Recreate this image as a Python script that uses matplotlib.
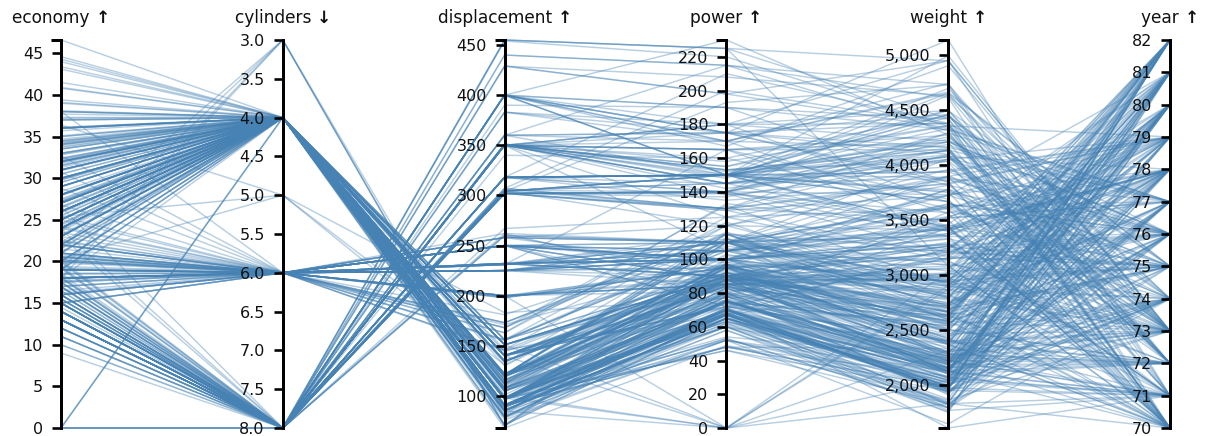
import matplotlib
matplotlib.use("Agg")
import matplotlib.pyplot as plt
from matplotlib.collections import LineCollection
from matplotlib.ticker import MultipleLocator, FixedLocator, FuncFormatter
import numpy as np

# Cars data set: one entry per car, grouped by model year (one line per year).
economy = [
    18, 15, 18, 16, 17, 15, 14, 14, 14, 15, 15, 14, 15, 14, 24, 22, 18, 21, 27, 26, 25, 24, 25, 26, 21, 10, 10, 11, 9, 0, 0, 0, 0, 0, 0,
    27, 28, 25, 25, 19, 16, 17, 19, 18, 14, 14, 14, 14, 12, 13, 13, 18, 22, 19, 18, 23, 28, 30, 30, 31, 35, 27, 26, 0,
    24, 25, 23, 20, 21, 13, 14, 15, 14, 17, 11, 13, 12, 13, 19, 15, 13, 13, 14, 18, 22, 21, 26, 22, 28, 23, 28, 27,
    13, 14, 13, 14, 15, 12, 13, 13, 14, 13, 12, 13, 18, 16, 18, 18, 23, 26, 11, 12, 13, 12, 18, 20, 21, 22, 18, 19, 21, 26, 15, 16, 29, 24, 20, 19, 15, 24, 20, 11,
    20, 21, 19, 15, 31, 26, 32, 25, 16, 16, 18, 16, 13, 14, 14, 14, 29, 26, 26, 31, 32, 28, 24, 26, 24, 26, 31,
    19, 18, 15, 15, 16, 15, 16, 14, 17, 16, 15, 18, 21, 20, 13, 29, 23, 20, 23, 24, 25, 24, 18, 29, 19, 23, 23, 22, 25, 33,
    28, 25, 25, 26, 27, 17.5, 16, 15.5, 14.5, 22, 22, 24, 22.5, 29, 24.5, 29, 33, 20, 18, 18.5, 17.5, 29.5, 32, 28, 26.5, 20, 13, 19, 19, 16.5, 16.5, 13, 13, 13,
    31.5, 30, 36, 25.5, 33.5, 17.5, 17, 15.5, 15, 17.5, 20.5, 19, 18.5, 16, 15.5, 15.5, 16, 29, 24.5, 26, 25.5, 30.5, 33.5, 30, 30.5, 22, 21.5, 21.5,
    43.1, 36.1, 32.8, 39.4, 36.1, 19.9, 19.4, 20.2, 19.2, 20.5, 20.2, 25.1, 20.5, 19.4, 20.6, 20.8, 18.6, 18.1, 19.2, 17.7, 18.1, 17.5, 30, 27.5, 27.2, 30.9, 21.1, 23.2, 23.8, 23.9, 20.3, 17, 21.6, 16.2, 31.5, 29.5,
    21.5, 19.8, 22.3, 20.2, 20.6, 17, 17.6, 16.5, 18.2, 16.9, 15.5, 19.2, 18.5, 31.9, 34.1, 35.7, 27.4, 25.4, 23, 27.2, 23.9, 34.2, 34.5, 31.8, 37.3, 28.4, 28.8, 26.8, 33.5,
    41.5, 38.1, 32.1, 37.2, 28, 26.4, 24.3, 19.1, 34.3, 29.8, 31.3, 37, 32.2, 46.6, 27.9, 40.8, 44.3, 43.4, 36.4, 30, 44.6, 40.9, 33.8, 29.8, 32.7, 23.7, 35, 23.6, 32.4,
    27.2, 26.6, 25.8, 23.5, 30, 39.1, 39, 35.1, 32.3, 37, 37.7, 34.1, 34.7, 34.4, 29.9, 33, 34.5, 33.7, 32.4, 32.9, 31.6, 28.1, 30.7, 25.4, 24.2, 22.4, 26.6, 20.2, 17.6, 0,
    28, 27, 34, 31, 29, 27, 24, 23, 36, 37, 31, 38, 36, 36, 36, 34, 38, 32, 38, 25, 38, 26, 22, 32, 36, 27, 27, 44, 32, 28, 31,
]

cylinders = [
    8, 8, 8, 8, 8, 8, 8, 8, 8, 8, 8, 8, 8, 8, 4, 6, 6, 6, 4, 4, 4, 4, 4, 4, 6, 8, 8, 8, 8, 4, 8, 8, 8, 8, 8,
    4, 4, 4, 4, 6, 6, 6, 6, 6, 8, 8, 8, 8, 8, 8, 8, 6, 4, 6, 6, 4, 4, 4, 4, 4, 4, 4, 4, 4,
    4, 4, 4, 4, 4, 8, 8, 8, 8, 8, 8, 8, 8, 8, 3, 8, 8, 8, 8, 4, 4, 4, 4, 4, 4, 4, 4, 4,
    8, 8, 8, 8, 8, 8, 8, 8, 8, 8, 8, 8, 6, 6, 6, 6, 6, 4, 8, 8, 8, 8, 6, 4, 4, 4, 3, 4, 6, 4, 8, 8, 4, 4, 4, 4, 8, 4, 6, 8,
    6, 6, 6, 6, 4, 4, 4, 4, 6, 6, 6, 8, 8, 8, 8, 8, 4, 4, 4, 4, 4, 4, 4, 4, 4, 4, 4,
    6, 6, 6, 6, 8, 8, 8, 8, 6, 6, 6, 6, 6, 8, 8, 4, 4, 6, 4, 4, 4, 4, 6, 4, 6, 4, 4, 4, 4, 4,
    4, 4, 4, 4, 4, 8, 8, 8, 8, 6, 6, 6, 6, 4, 4, 4, 4, 6, 6, 6, 6, 4, 4, 4, 4, 4, 8, 4, 6, 6, 8, 8, 8, 8,
    4, 4, 4, 4, 4, 8, 8, 8, 8, 6, 6, 6, 6, 8, 8, 8, 8, 4, 4, 4, 4, 4, 4, 4, 4, 6, 4, 3,
    4, 4, 4, 4, 4, 8, 8, 8, 6, 6, 6, 4, 6, 6, 6, 6, 6, 6, 8, 6, 8, 8, 4, 4, 4, 4, 4, 4, 4, 4, 5, 6, 4, 6, 4, 4,
    6, 6, 4, 6, 6, 8, 8, 8, 8, 8, 8, 8, 8, 4, 4, 4, 4, 5, 8, 4, 8, 4, 4, 4, 4, 4, 6, 6, 4,
    4, 4, 4, 4, 4, 4, 4, 6, 4, 4, 4, 4, 4, 4, 4, 4, 4, 4, 5, 4, 4, 4, 4, 4, 6, 3, 4, 4, 4,
    4, 4, 4, 6, 4, 4, 4, 4, 4, 4, 4, 4, 4, 4, 4, 4, 4, 4, 4, 4, 4, 4, 6, 6, 6, 6, 8, 6, 6, 4,
    4, 4, 4, 4, 4, 4, 4, 4, 4, 4, 4, 4, 4, 4, 4, 4, 4, 4, 4, 6, 6, 4, 6, 4, 4, 4, 4, 4, 4, 4, 4,
]

displacement = [
    307, 350, 318, 304, 302, 429, 454, 440, 455, 390, 383, 340, 400, 455, 113, 198, 199, 200, 97, 97, 110, 107, 104, 121, 199, 360, 307, 318, 304, 133, 350, 351, 383, 360, 302,
    97, 140, 113, 98, 232, 225, 250, 250, 232, 350, 400, 351, 318, 383, 400, 400, 258, 140, 250, 250, 122, 116, 79, 88, 71, 72, 97, 91, 97,
    113, 97.5, 97, 140, 122, 350, 400, 318, 351, 304, 429, 350, 350, 400, 70, 304, 307, 302, 318, 121, 121, 120, 96, 122, 97, 120, 98, 97,
    350, 304, 350, 302, 318, 429, 400, 351, 318, 440, 455, 360, 225, 250, 232, 250, 198, 97, 400, 400, 360, 350, 232, 97, 140, 108, 70, 122, 155, 98, 350, 400, 68, 116, 114, 121, 318, 121, 156, 350,
    198, 200, 232, 250, 79, 122, 71, 140, 250, 258, 225, 302, 350, 318, 302, 304, 98, 79, 97, 76, 83, 90, 90, 116, 120, 108, 79,
    225, 250, 250, 250, 400, 350, 318, 351, 231, 250, 258, 225, 231, 262, 302, 97, 140, 232, 140, 134, 90, 119, 171, 90, 232, 115, 120, 121, 121, 91,
    107, 116, 140, 98, 101, 305, 318, 304, 351, 225, 250, 200, 232, 85, 98, 90, 91, 225, 250, 250, 258, 97, 85, 97, 140, 130, 318, 120, 156, 168, 350, 350, 302, 318,
    98, 111, 79, 122, 85, 305, 260, 318, 302, 250, 231, 225, 250, 400, 350, 400, 351, 97, 151, 97, 140, 98, 98, 97, 97, 146, 121, 80,
    90, 98, 78, 85, 91, 260, 318, 302, 231, 200, 200, 140, 225, 232, 231, 200, 225, 258, 305, 231, 302, 318, 98, 134, 119, 105, 134, 156, 151, 119, 131, 163, 121, 163, 89, 98,
    231, 200, 140, 232, 225, 305, 302, 351, 318, 350, 351, 267, 360, 89, 86, 98, 121, 183, 350, 141, 260, 105, 105, 85, 91, 151, 173, 173, 151,
    98, 89, 98, 86, 151, 140, 151, 225, 97, 134, 120, 119, 108, 86, 156, 85, 90, 90, 121, 146, 91, 85, 97, 89, 168, 70, 122, 140, 107,
    135, 151, 156, 173, 135, 79, 86, 81, 97, 85, 89, 91, 105, 98, 98, 105, 100, 107, 108, 119, 120, 141, 145, 168, 146, 231, 350, 200, 225, 121,
    112, 112, 112, 112, 135, 151, 140, 151, 105, 91, 91, 105, 98, 120, 107, 108, 91, 91, 91, 181, 262, 156, 232, 144, 135, 151, 140, 97, 135, 120, 119,
]

power = [
    130, 165, 150, 150, 140, 198, 220, 215, 225, 190, 170, 160, 150, 225, 95, 95, 97, 85, 88, 46, 87, 90, 95, 113, 90, 215, 200, 210, 193, 115, 165, 153, 175, 175, 140,
    88, 90, 95, 0, 100, 105, 100, 88, 100, 165, 175, 153, 150, 180, 170, 175, 110, 72, 100, 88, 86, 90, 70, 76, 65, 69, 60, 70, 48,
    95, 80, 54, 90, 86, 165, 175, 150, 153, 150, 208, 155, 160, 190, 97, 150, 130, 140, 150, 112, 76, 87, 69, 86, 92, 97, 80, 88,
    175, 150, 145, 137, 150, 198, 150, 158, 150, 215, 225, 175, 105, 100, 100, 88, 95, 46, 150, 167, 170, 180, 100, 88, 72, 94, 90, 85, 107, 90, 145, 230, 49, 75, 91, 112, 150, 110, 122, 180,
    95, 0, 100, 100, 67, 80, 65, 75, 100, 110, 105, 140, 150, 150, 140, 150, 83, 67, 78, 52, 61, 75, 75, 75, 97, 93, 67,
    95, 105, 72, 72, 170, 145, 150, 148, 110, 105, 110, 95, 110, 110, 129, 75, 83, 100, 78, 96, 71, 97, 97, 70, 90, 95, 88, 98, 115, 53,
    86, 81, 92, 79, 83, 140, 150, 120, 152, 100, 105, 81, 90, 52, 60, 70, 53, 100, 78, 110, 95, 71, 70, 75, 72, 102, 150, 88, 108, 120, 180, 145, 130, 150,
    68, 80, 58, 96, 70, 145, 110, 145, 130, 110, 105, 100, 98, 180, 170, 190, 149, 78, 88, 75, 89, 63, 83, 67, 78, 97, 110, 110,
    48, 66, 52, 70, 60, 110, 140, 139, 105, 95, 85, 88, 100, 90, 105, 85, 110, 120, 145, 165, 139, 140, 68, 95, 97, 75, 95, 105, 85, 97, 103, 125, 115, 133, 71, 68,
    115, 85, 88, 90, 110, 130, 129, 138, 135, 155, 142, 125, 150, 71, 65, 80, 80, 77, 125, 71, 90, 70, 70, 65, 69, 90, 115, 115, 90,
    76, 60, 70, 65, 90, 88, 90, 90, 78, 90, 75, 92, 75, 65, 105, 65, 48, 48, 67, 67, 67, 0, 67, 62, 132, 100, 88, 0, 72,
    84, 84, 92, 110, 84, 58, 64, 60, 67, 65, 62, 68, 63, 65, 65, 74, 0, 75, 75, 100, 74, 80, 76, 116, 120, 110, 105, 88, 85, 110,
    88, 88, 88, 85, 84, 90, 92, 0, 74, 68, 68, 63, 70, 88, 75, 70, 67, 67, 67, 110, 85, 92, 112, 96, 84, 90, 86, 52, 84, 79, 82,
]

weight = [
    3504, 3693, 3436, 3433, 3449, 4341, 4354, 4312, 4425, 3850, 3563, 3609, 3761, 3086, 2372, 2833, 2774, 2587, 2130, 1835, 2672, 2430, 2375, 2234, 2648, 4615, 4376, 4382, 4732, 3090, 4142, 4034, 4166, 3850, 3353,
    2130, 2264, 2228, 2046, 2634, 3439, 3329, 3302, 3288, 4209, 4464, 4154, 4096, 4955, 4746, 5140, 2962, 2408, 3282, 3139, 2220, 2123, 2074, 2065, 1773, 1613, 1834, 1955, 1978,
    2278, 2126, 2254, 2408, 2226, 4274, 4385, 4135, 4129, 3672, 4633, 4502, 4456, 4422, 2330, 3892, 4098, 4294, 4077, 2933, 2511, 2979, 2189, 2395, 2288, 2506, 2164, 2100,
    4100, 3672, 3988, 4042, 3777, 4952, 4464, 4363, 4237, 4735, 4951, 3821, 3121, 3278, 2945, 3021, 2904, 1950, 4997, 4906, 4654, 4499, 2789, 2279, 2401, 2379, 2124, 2310, 2472, 2265, 4082, 4278, 1867, 2158, 2582, 2868, 3399, 2660, 2807, 3664,
    3102, 2875, 2901, 3336, 1950, 2451, 1836, 2542, 3781, 3632, 3613, 4141, 4699, 4457, 4638, 4257, 2219, 1963, 2300, 1649, 2003, 2125, 2108, 2246, 2489, 2391, 2000,
    3264, 3459, 3432, 3158, 4668, 4440, 4498, 4657, 3907, 3897, 3730, 3785, 3039, 3221, 3169, 2171, 2639, 2914, 2592, 2702, 2223, 2545, 2984, 1937, 3211, 2694, 2957, 2945, 2671, 1795,
    2464, 2220, 2572, 2255, 2202, 4215, 4190, 3962, 4215, 3233, 3353, 3012, 3085, 2035, 2164, 1937, 1795, 3651, 3574, 3645, 3193, 1825, 1990, 2155, 2565, 3150, 3940, 3270, 2930, 3820, 4380, 4055, 3870, 3755,
    2045, 2155, 1825, 2300, 1945, 3880, 4060, 4140, 4295, 3520, 3425, 3630, 3525, 4220, 4165, 4325, 4335, 1940, 2740, 2265, 2755, 2051, 2075, 1985, 2190, 2815, 2600, 2720,
    1985, 1800, 1985, 2070, 1800, 3365, 3735, 3570, 3535, 3155, 2965, 2720, 3430, 3210, 3380, 3070, 3620, 3410, 3425, 3445, 3205, 4080, 2155, 2560, 2300, 2230, 2515, 2745, 2855, 2405, 2830, 3140, 2795, 3410, 1990, 2135,
    3245, 2990, 2890, 3265, 3360, 3840, 3725, 3955, 3830, 4360, 4054, 3605, 3940, 1925, 1975, 1915, 2670, 3530, 3900, 3190, 3420, 2200, 2150, 2020, 2130, 2670, 2595, 2700, 2556,
    2144, 1968, 2120, 2019, 2678, 2870, 3003, 3381, 2188, 2711, 2542, 2434, 2265, 2110, 2800, 2110, 2085, 2335, 2950, 3250, 1850, 1835, 2145, 1845, 2910, 2420, 2500, 2905, 2290,
    2490, 2635, 2620, 2725, 2385, 1755, 1875, 1760, 2065, 1975, 2050, 1985, 2215, 2045, 2380, 2190, 2320, 2210, 2350, 2615, 2635, 3230, 3160, 2900, 2930, 3415, 3725, 3060, 3465, 2800,
    2605, 2640, 2395, 2575, 2525, 2735, 2865, 3035, 1980, 2025, 1970, 2125, 2125, 2160, 2205, 2245, 1965, 1965, 1995, 2945, 3015, 2585, 2835, 2665, 2370, 2950, 2790, 2130, 2295, 2625, 2720,
]

year = [
    70, 70, 70, 70, 70, 70, 70, 70, 70, 70, 70, 70, 70, 70, 70, 70, 70, 70, 70, 70, 70, 70, 70, 70, 70, 70, 70, 70, 70, 70, 70, 70, 70, 70, 70,
    71, 71, 71, 71, 71, 71, 71, 71, 71, 71, 71, 71, 71, 71, 71, 71, 71, 71, 71, 71, 71, 71, 71, 71, 71, 71, 71, 71, 71,
    72, 72, 72, 72, 72, 72, 72, 72, 72, 72, 72, 72, 72, 72, 72, 72, 72, 72, 72, 72, 72, 72, 72, 72, 72, 72, 72, 72,
    73, 73, 73, 73, 73, 73, 73, 73, 73, 73, 73, 73, 73, 73, 73, 73, 73, 73, 73, 73, 73, 73, 73, 73, 73, 73, 73, 73, 73, 73, 73, 73, 73, 73, 73, 73, 73, 73, 73, 73,
    74, 74, 74, 74, 74, 74, 74, 74, 74, 74, 74, 74, 74, 74, 74, 74, 74, 74, 74, 74, 74, 74, 74, 74, 74, 74, 74,
    75, 75, 75, 75, 75, 75, 75, 75, 75, 75, 75, 75, 75, 75, 75, 75, 75, 75, 75, 75, 75, 75, 75, 75, 75, 75, 75, 75, 75, 75,
    76, 76, 76, 76, 76, 76, 76, 76, 76, 76, 76, 76, 76, 76, 76, 76, 76, 76, 76, 76, 76, 76, 76, 76, 76, 76, 76, 76, 76, 76, 76, 76, 76, 76,
    77, 77, 77, 77, 77, 77, 77, 77, 77, 77, 77, 77, 77, 77, 77, 77, 77, 77, 77, 77, 77, 77, 77, 77, 77, 77, 77, 77,
    78, 78, 78, 78, 78, 78, 78, 78, 78, 78, 78, 78, 78, 78, 78, 78, 78, 78, 78, 78, 78, 78, 78, 78, 78, 78, 78, 78, 78, 78, 78, 78, 78, 78, 78, 78,
    79, 79, 79, 79, 79, 79, 79, 79, 79, 79, 79, 79, 79, 79, 79, 79, 79, 79, 79, 79, 79, 79, 79, 79, 79, 79, 79, 79, 79,
    80, 80, 80, 80, 80, 80, 80, 80, 80, 80, 80, 80, 80, 80, 80, 80, 80, 80, 80, 80, 80, 80, 80, 80, 80, 80, 80, 80, 80,
    81, 81, 81, 81, 81, 81, 81, 81, 81, 81, 81, 81, 81, 81, 81, 81, 81, 81, 81, 81, 81, 81, 81, 81, 81, 81, 81, 81, 81, 81,
    82, 82, 82, 82, 82, 82, 82, 82, 82, 82, 82, 82, 82, 82, 82, 82, 82, 82, 82, 82, 82, 82, 82, 82, 82, 82, 82, 82, 82, 82, 82,
]

names = ["economy", "cylinders", "displacement", "power", "weight", "year"]
arrows = ["\u2191", "\u2193", "\u2191", "\u2191", "\u2191", "\u2191"]
columns = [economy, cylinders, displacement, power, weight, year]
inverted = [False, True, False, False, False, False]
tick_steps = [5, 0.5, 50, 20, 500, 1]
tick_formats = ["{:.0f}", "{:.1f}", "{:.0f}", "{:.0f}", "{:,.0f}", "{:.0f}"]

n = len(economy)
assert all(len(c) == n for c in columns), [len(c) for c in columns]

W, H = 1205, 436
DPI = 100
PX = 72.0 / DPI  # points per pixel

plt.rcParams["font.family"] = ["DejaVu Sans"]

fig = plt.figure(figsize=(W / DPI, H / DPI), dpi=DPI)
fig.patch.set_facecolor("white")

x_left, x_right = 61, 1170
y_top, y_bottom = 40, 428
left = x_left / W
width = (x_right - x_left) / W
bottom = (H - y_bottom) / H
height = (y_bottom - y_top) / H

data = np.array(columns, dtype=float).T  # rows = cars, cols = dimensions
lo = data.min(axis=0)
hi = data.max(axis=0)
norm = (data - lo) / (hi - lo)
for j, inv in enumerate(inverted):
    if inv:
        norm[:, j] = 1.0 - norm[:, j]

k = len(columns)
xs = np.arange(k)

# Foreground polylines
ax = fig.add_axes([left, bottom, width, height])
ax.set_xlim(0, k - 1)
ax.set_ylim(0, 1)
ax.axis("off")
segs = [np.column_stack([xs, row]) for row in norm]
lc = LineCollection(segs, colors="#4682b4", linewidths=1.05, alpha=0.38, clip_on=False)
ax.add_collection(lc)

renderer = fig.canvas.get_renderer()
title_fs = 17 * PX
title_y = 1 - 18 / H

# One vertical axis per dimension
for j in range(k):
    xpos = left + width * j / (k - 1)
    dax = fig.add_axes([xpos, bottom, 1e-6, height])
    dax.patch.set_visible(False)
    for side in ("right", "top", "bottom"):
        dax.spines[side].set_visible(False)
    sp = dax.spines["left"]
    sp.set_linewidth(3 * PX)
    sp.set_color("black")
    sp.set_capstyle("projecting")
    dax.set_xticks([])
    if inverted[j]:
        dax.set_ylim(hi[j], lo[j])
    else:
        dax.set_ylim(lo[j], hi[j])
    dax.yaxis.set_major_locator(MultipleLocator(tick_steps[j]))
    fmt = tick_formats[j]
    dax.yaxis.set_major_formatter(FuncFormatter(lambda v, p, f=fmt: f.format(v)))
    dax.yaxis.set_minor_locator(FixedLocator([lo[j], hi[j]]))
    dax.tick_params(axis="y", which="major", direction="out", length=9 * PX,
                    width=2.6 * PX, color="black", labelsize=16 * PX, labelcolor="#111111",
                    pad=9 * PX)
    dax.tick_params(axis="y", which="minor", direction="out", length=10 * PX,
                    width=3 * PX, color="black")

    # Title: name in regular weight followed by a heavier direction arrow
    t_name = fig.text(0, title_y, names[j] + " ", ha="left", va="center",
                      fontsize=title_fs, color="#111111")
    t_arrow = fig.text(0, title_y, arrows[j], ha="left", va="center",
                       fontsize=title_fs, fontweight="bold", color="#111111")
    w_name = t_name.get_window_extent(renderer).width
    w_arrow = t_arrow.get_window_extent(renderer).width
    x0 = xpos * W - (w_name + w_arrow) / 2
    t_name.set_x(x0 / W)
    t_arrow.set_x((x0 + w_name) / W)

fig.savefig("out.png", dpi=DPI, facecolor="white")
